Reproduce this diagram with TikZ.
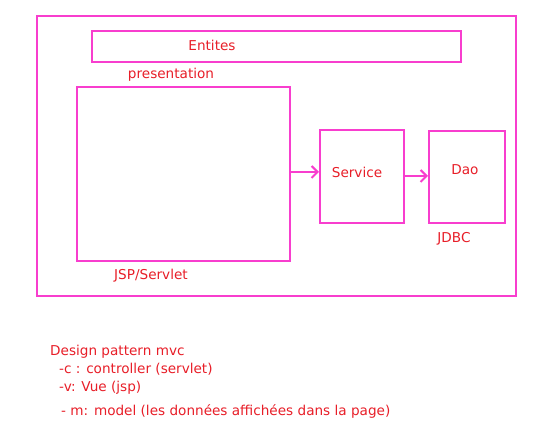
\documentclass[tikz,border=0pt]{standalone}
\usepackage{fontspec}
\setmainfont{DejaVu Sans}
\usetikzlibrary{arrows.meta}
\definecolor{pinkline}{RGB}{248,62,206}
\definecolor{redtext}{RGB}{232,30,40}
\begin{document}
\begin{tikzpicture}[x=1pt,y=-1pt,
  box/.style={draw=pinkline,line width=2.4pt},
  lbl/.style={text=redtext,font=\fontsize{13.6}{15}\selectfont,inner sep=0pt},
  note/.style={text=redtext,font=\fontsize{13.6}{15}\selectfont,inner sep=0pt,anchor=west},
  conn/.style={draw=pinkline,line width=2.4pt,-{Straight Barb[length=6pt,width=12pt,line width=2pt]}}]
\useasboundingbox (0,0) rectangle (547,427);
\fill[white] (0,0) rectangle (547,427);
\node[box,minimum width=479pt,minimum height=280pt,anchor=north west] (outer) at (36,15) {};
\node[box,minimum width=369pt,minimum height=31pt,anchor=north west] (entites) at (91,30) {};
\node[lbl] (entitesT) at (212,45) {Entites};
\node[lbl] (pres) at (171,75) {presentation};
\node[box,minimum width=213pt,minimum height=174pt,anchor=north west] (jsp) at (76,86) {};
\node[lbl] (jspT) at (151,276) {JSP/Servlet};
\node[box,minimum width=84pt,minimum height=93pt,anchor=north west] (service) at (319,129) {};
\node[lbl] (serviceT) at (357,172) {Service};
\node[box,minimum width=76pt,minimum height=92pt,anchor=north west] (dao) at (428,130) {};
\node[lbl] (daoT) at (465,170) {Dao};
\node[lbl] (jdbc) at (454,239) {JDBC};
\coordinate (a1) at (jsp.east |- 0,172);
\coordinate (a1e) at (service.west |- 0,172);
\draw[conn] (a1) -- (a1e);
\coordinate (a2) at (service.east |- 0,176);
\coordinate (a2e) at (dao.west |- 0,176);
\draw[conn] (a2) -- (a2e);
\node[note] (n1) at (50,352) {Design pattern mvc};
\node[note] (n2) at (59,369) {-c : controller (servlet)};
\node[note] (n3) at (59,388) {-v: Vue (jsp)};
\node[note] (n4) at (61,411) {- m: model (les données affichées dans la page)};
\end{tikzpicture}
\end{document}
